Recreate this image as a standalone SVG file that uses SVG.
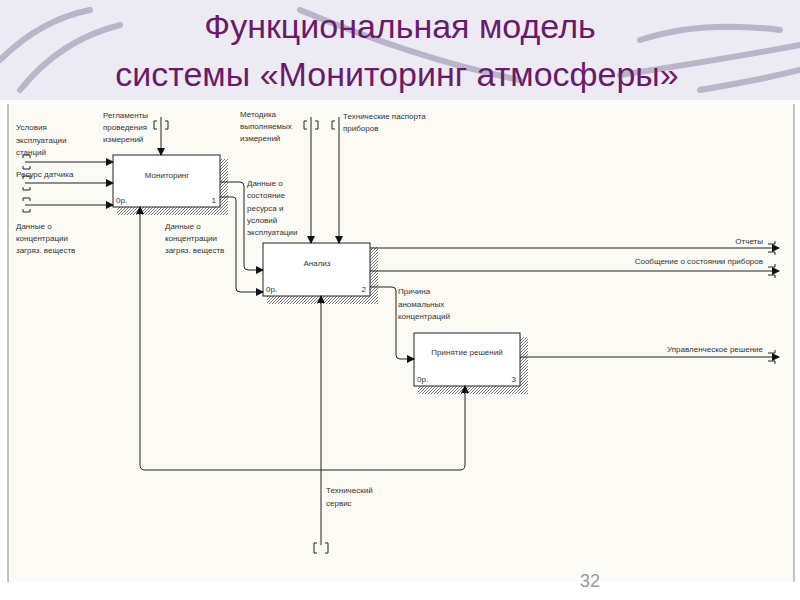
<svg xmlns="http://www.w3.org/2000/svg" width="800" height="600" viewBox="0 0 800 600">
<defs>
<pattern id="h" width="3" height="3" patternUnits="userSpaceOnUse"><rect width="3" height="3" fill="#fff"/><path d="M0,3L3,0" stroke="#555" stroke-width="0.8"/></pattern>
<marker id="a" markerWidth="8" markerHeight="8" refX="7" refY="4" orient="auto" markerUnits="userSpaceOnUse"><path d="M0,0L8,4L0,8z" fill="#111"/></marker>
</defs>
<style>
.t{font-family:"Liberation Sans",Arial,sans-serif;font-size:8px;fill:#333}
.b{fill:#fff;stroke:#222;stroke-width:1}
.c{fill:none;stroke:#222;stroke-width:1}
.tl{font-family:"Liberation Sans Narrow","Liberation Sans",Arial,sans-serif;fill:#6a1a6a;font-size:34px}
</style>
<rect width="800" height="600" fill="#fff"/>
<rect x="0" y="0" width="800" height="100" fill="#eceaf2"/>
<path d="M0,60 Q40,20 90,10 M20,90 Q60,40 120,25 M300,10 Q420,60 520,80 M640,40 Q700,20 780,30 M620,75 Q720,60 800,45 M700,90 Q760,80 800,70" stroke="#b8b6c8" stroke-width="6" fill="none" stroke-linecap="round"/>
<text class="tl" x="400" y="38" text-anchor="middle">Функциональная модель</text>
<text class="tl" x="397" y="86" text-anchor="middle">системы «Мониторинг атмосферы»</text>
<rect x="8" y="104" width="786" height="478" fill="#fbfaf4"/>
<line x1="8" y1="104" x2="8" y2="582" stroke="#888"/>
<line x1="794" y1="104" x2="794" y2="582" stroke="#888"/>
<g id="n1">
<rect x="117" y="159" width="111" height="56" fill="url(#h)"/>
<rect class="b" x="113" y="155" width="107" height="52"/>
<text class="t" x="167" y="178" text-anchor="middle">Мониторинг</text>
<text class="t" x="116" y="203">0р.</text><text class="t" x="216" y="203" text-anchor="end">1</text>
</g>
<g id="n2">
<rect x="267" y="247" width="111" height="57" fill="url(#h)"/>
<rect class="b" x="263" y="243" width="107" height="53"/>
<text class="t" x="317" y="266" text-anchor="middle">Анализ</text>
<text class="t" x="266" y="292">0р.</text><text class="t" x="366" y="292" text-anchor="end">2</text>
</g>
<g id="n3">
<rect x="418" y="337" width="110" height="57" fill="url(#h)"/>
<rect class="b" x="414" y="333" width="106" height="53"/>
<text class="t" x="467" y="355" text-anchor="middle">Принятие решений</text>
<text class="t" x="417" y="382">0р.</text><text class="t" x="516" y="382" text-anchor="end">3</text>
</g>
<g id="connectors">
<path class="c" d="M25,162H113" marker-end="url(#a)"/>
<path class="c" d="M25,183H113" marker-end="url(#a)"/>
<path class="c" d="M25,205H113" marker-end="url(#a)"/>
<path class="c" d="M161,117V155" marker-end="url(#a)"/>
<path class="c" d="M311,117V243" marker-end="url(#a)"/>
<path class="c" d="M339,117V243" marker-end="url(#a)"/>
<path class="c" d="M220,182H240Q244,182 244,186V266Q244,270 248,270H263" marker-end="url(#a)"/>
<path class="c" d="M220,197H233Q236,197 236,200V288Q236,292 240,292H263" marker-end="url(#a)"/>
<path class="c" d="M370,248H779" marker-end="url(#a)"/>
<path class="c" d="M370,271H779" marker-end="url(#a)"/>
<path class="c" d="M370,287H392Q396,287 396,291V355Q396,359 400,359H414" marker-end="url(#a)"/>
<path class="c" d="M520,357H779" marker-end="url(#a)"/>
<path class="c" d="M321,545V296" marker-end="url(#a)"/>
<path class="c" d="M321,470H145Q140,470 140,465V207" marker-end="url(#a)"/>
<path class="c" d="M321,470H460Q465,470 465,465V386" marker-end="url(#a)"/>
<g class="c">
<path d="M23,158v-3h7v3M23,166v3h7v-3M23,179v-3h7v3M23,187v3h7v-3M23,201v-3h7v3M23,209v3h7v-3"/>
<path d="M157,121h-3v8h3M165,121h3v8h-3"/>
<path d="M307,121h-3v8h3M315,121h3v8h-3M335,121h-3v8h3"/>
<path d="M768,244h7v-3M768,252h7v3M768,267h7v-3M768,275h7v3M768,353h7v-3M768,361h7v3"/>
<path d="M317,543h-3v10h3M325,543h3v10h-3"/>
</g>
</g>
<g id="labels">
<text class="t" x="16" y="130">Условия</text><text class="t" x="16" y="143">эксплуатации</text><text class="t" x="16" y="155">станций</text>
<text class="t" x="16" y="177">Ресурс датчика</text>
<text class="t" x="16" y="229">Данные о</text><text class="t" x="16" y="241">концентрации</text><text class="t" x="16" y="253">загряз. веществ</text>
<text class="t" x="103" y="118">Регламенты</text><text class="t" x="103" y="130">проведения</text><text class="t" x="103" y="142">измерений</text>
<text class="t" x="240" y="117">Методика</text><text class="t" x="240" y="129">выполняемых</text><text class="t" x="240" y="141">измерений</text>
<text class="t" x="343" y="119">Технические паспорта</text><text class="t" x="343" y="131">приборов</text>
<text class="t" x="247" y="186">Данные о</text><text class="t" x="247" y="198">состояние</text><text class="t" x="247" y="211">ресурса и</text><text class="t" x="247" y="223">условий</text><text class="t" x="247" y="235">эксплуатации</text>
<text class="t" x="165" y="229">Данные о</text><text class="t" x="165" y="241">концентрации</text><text class="t" x="165" y="253">загряз. веществ</text>
<text class="t" x="763" y="244" text-anchor="end">Отчеты</text>
<text class="t" x="763" y="264" text-anchor="end">Сообщение о состоянии приборов</text>
<text class="t" x="398" y="294">Причина</text><text class="t" x="398" y="307">аномальных</text><text class="t" x="398" y="319">концентраций</text>
<text class="t" x="763" y="352" text-anchor="end">Управленческое решение</text>
<text class="t" x="326" y="493">Технический</text><text class="t" x="326" y="506">сервис</text>
</g>
<text x="580" y="587" font-family="Liberation Sans,Arial,sans-serif" font-size="18" fill="#999">32</text>
</svg>
